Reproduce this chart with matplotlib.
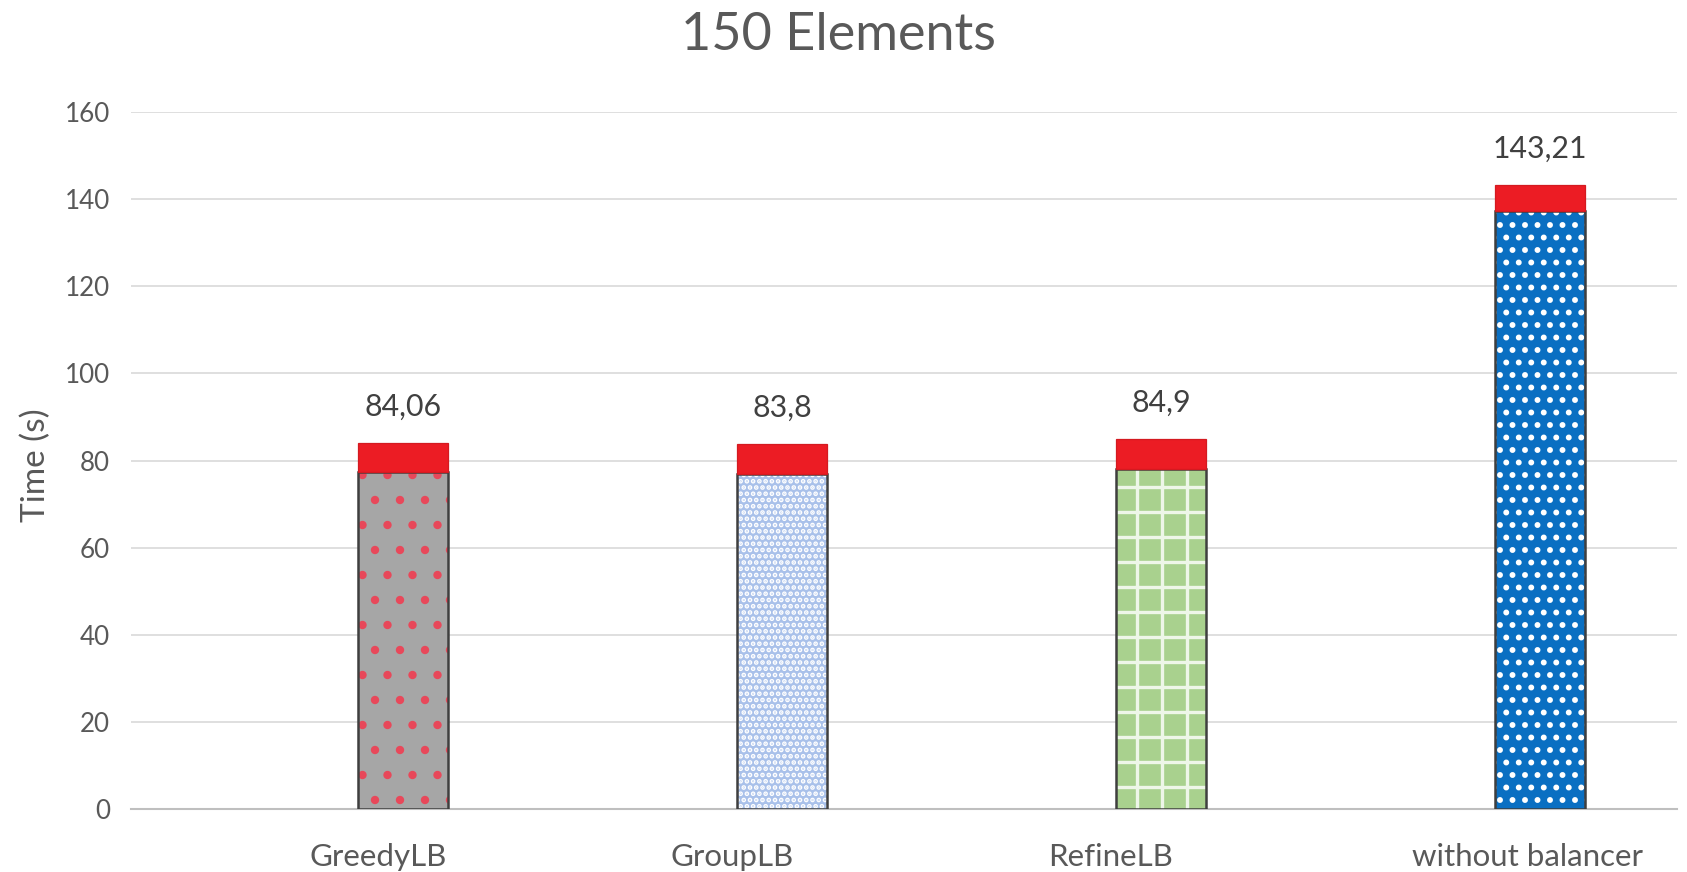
import matplotlib.pyplot as plt
import numpy as np

# run times per load balancer (seconds)
balancers = ['GreedyLB', 'GroupLB', 'RefineLB', 'without balancer']
total_time = [84.06, 83.8, 84.9, 143.21]
compute_time = [77.4, 76.9, 78.1, 137.3]
overhead_time = [t - c for t, c in zip(total_time, compute_time)]
y_ticks = [0, 20, 40, 60, 80, 100, 120, 140, 160]

# fill / hatch look for the lower part of each bar
face_colors = ['#a6a6a6', '#a9c1ea', '#a9d18e', '#0a6fc2']
hatch_colors = ['#e8485a', '#ffffff', '#eef6e8', '#ffffff']
hatches = ['.', '....', '+', '..']
label_shift = [-25, -50, -50, -12]  # pixels

text_col = '#595959'
plt.rcParams['font.family'] = ['Lato', 'DejaVu Sans']
plt.rcParams['hatch.linewidth'] = 1.6

fig = plt.figure(figsize=(1687 / 150, 872 / 150), dpi=150)
ax = fig.add_axes([0.0777, 0.0722, 0.9163, 0.7994])

x = np.arange(len(balancers))
w = 0.238

for i in range(len(balancers)):
    # hatched fill, hatch colour comes from the edgecolor
    ax.bar(x[i], compute_time[i], w, color=face_colors[i], edgecolor=hatch_colors[i],
           hatch=hatches[i], linewidth=0, zorder=3)
    # dark outline on top
    ax.bar(x[i], compute_time[i], w, facecolor='none', edgecolor='#3f3f3f',
           linewidth=1.2, zorder=4)
ax.bar(x, overhead_time, w, bottom=compute_time, color='#ec1c24', edgecolor='#d41a20',
       linewidth=0.6, zorder=5)

for i, v in enumerate(total_time):
    ax.annotate(str(v).replace('.', ','), xy=(x[i], v), xytext=(0, 13),
                textcoords='offset points', ha='center', va='baseline',
                fontsize=14.5, color='#404040')

ax.set_xlim(-0.719, 3.362)
ax.set_ylim(0, 160)
ax.set_yticks(y_ticks)
ax.tick_params(axis='y', length=0, pad=10, labelsize=12.5, labelcolor=text_col)
ax.set_xticks(x)
ax.set_xticklabels([])
ax.tick_params(axis='x', length=0)
for i, name in enumerate(balancers):
    ax.annotate(name, xy=(x[i], 0), xycoords=('data', 'axes fraction'),
                xytext=(label_shift[i], -48), textcoords='offset pixels',
                ha='center', va='center', fontsize=15, color=text_col)

ax.grid(axis='y', color='#d9d9d9', linewidth=0.8, zorder=0)
for s in ['top', 'right', 'left']:
    ax.spines[s].set_visible(False)
ax.spines['bottom'].set_color('#bfbfbf')
ax.spines['bottom'].set_linewidth(1.0)
ax.spines['bottom'].set_zorder(2)

fig.text(0.497, 1 - 50 / 872, '150 Elements', ha='center', va='baseline',
         fontsize=25, color=text_col)
fig.text(36 / 1687, 1 - 465 / 872, 'Time (s)', rotation=90, ha='center', va='center',
         fontsize=16, color=text_col)

fig.savefig('out.png', dpi=150)
